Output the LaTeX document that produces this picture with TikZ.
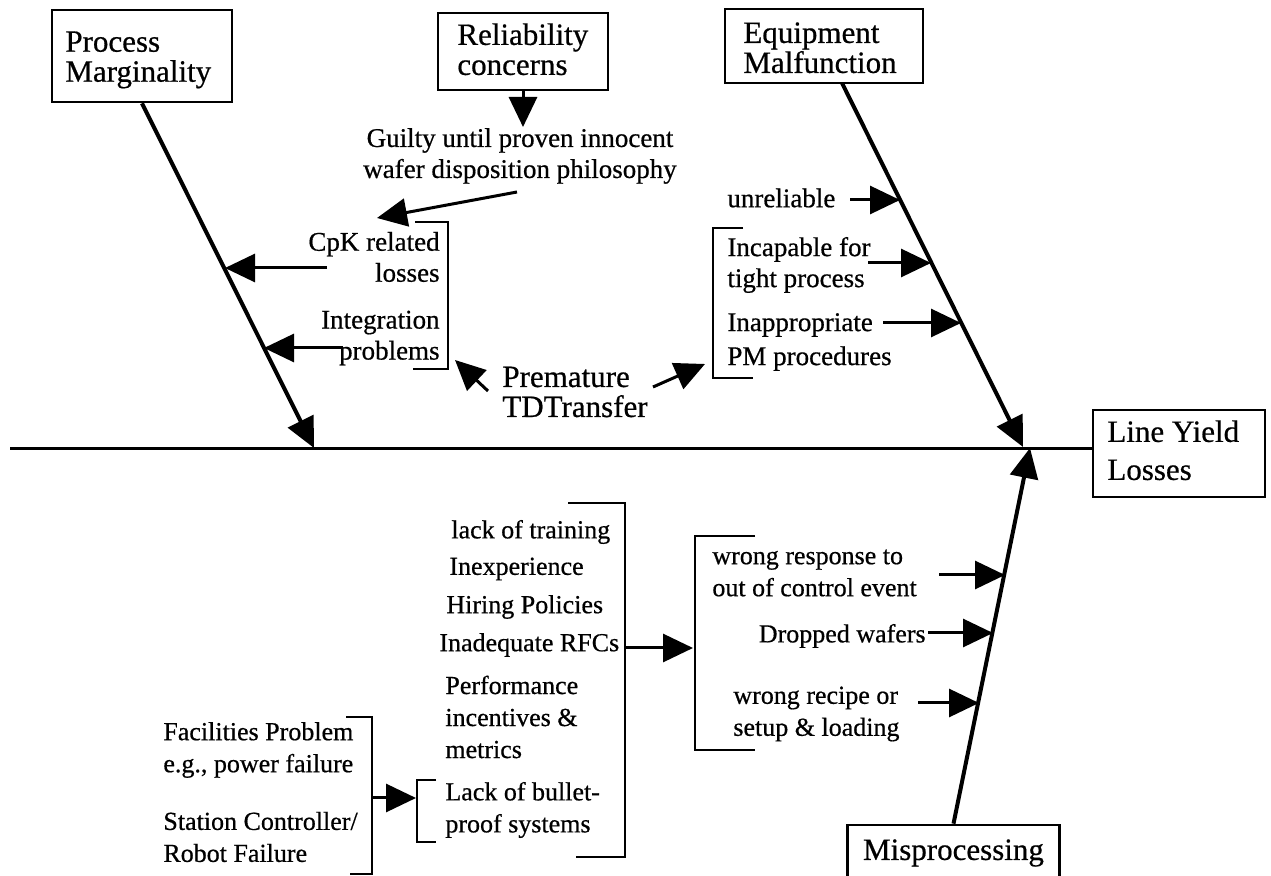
\documentclass[tikz,border=0pt]{standalone}
\usepackage{fontspec}
\setmainfont{Liberation Serif}[FakeBold=0.6,AutoFakeBold=0.6]
\usetikzlibrary{arrows.meta,calc}
\newcommand\boxfont{\fontsize{15.5}{15}\selectfont}
\newcommand\upfont{\fontsize{13.5}{15.5}\selectfont}
\newcommand\lowfont{\fontsize{13}{16}\selectfont}
\begin{document}
\begin{tikzpicture}[x=0.5pt,y=-0.5pt,
  causebox/.style={draw, line width=1.3pt},
  boxtext/.style={font=\boxfont, align=left, inner sep=0pt, anchor=north west},
  upper/.style={font=\upfont, inner sep=0pt},
  lower/.style={font=\lowfont, inner sep=0pt},
  bone/.style={line width=2pt, -{Triangle[length=15pt,width=14pt]}},
  twig/.style={line width=1.5pt, -{Triangle[length=15pt,width=14pt]}},
  bracket/.style={line width=1.4pt},
  spine/.style={line width=1.5pt}]
\useasboundingbox (0,0) rectangle (1271,876);
\clip (0,0) rectangle (1271,876);

% category boxes and their captions
\node[causebox, minimum width=90pt, minimum height=46pt] (pm) at (142,56) {};
\node[boxtext] (pmtext) at (65,31) {Process\\Marginality};
\node[causebox, minimum width=85pt, minimum height=38.5pt] (rc) at (523,51.5) {};
\node[boxtext] (rctext) at (457,23) {Reliability\\concerns};
\node[causebox, minimum width=99pt, minimum height=37pt] (em) at (824,46) {};
\node[boxtext] (emtext) at (743,22) {Equipment\\Malfunction};
\node[causebox, minimum width=86pt, minimum height=43.5pt] (lyl) at (1179,453.5) {};
\node[boxtext, font=\fontsize{15.5}{19}\selectfont] (lyltext) at (1107,420) {Line Yield\\Losses};
\node[causebox, font=\boxfont, minimum width=106pt, minimum height=28pt] (mp) at (953.5,853) {Misprocessing};

% spine
\coordinate (spinestart) at (10,449);
\draw[spine] (spinestart) -- (spinestart -| lyl.west);

% main bones
\coordinate (pmtip) at (314,448);
\coordinate (emroot) at (842,83);
\coordinate (emtip) at (1023,447);
\coordinate (mptip) at (1030,448);
\draw[bone] (pm.south) -- (pmtip);
\draw[bone] (emroot) -- (emtip);
\draw[bone] (mp.north) -- (mptip);

% upper left causes
\node[upper, align=center] (guilty) at (520,156) {Guilty until proven innocent\\wafer disposition philosophy};
\node[upper, align=right, anchor=east] (cpk) at (440,257) {CpK related\\losses};
\node[upper, align=right, anchor=east] (integ) at (440,338) {Integration\\problems};
\node[font=\boxfont, inner sep=0pt, align=left, anchor=west] (prem) at (502,392) {Premature\\TDTransfer};

\coordinate (relend) at (523,127);
\draw[twig] (rc.south) -- (relend);
\coordinate (guiltytail) at (517,192);
\coordinate (guiltytip) at (377,218);
\draw[twig] (guiltytail) -- (guiltytip);

\draw[bracket] (415,222) -- (448,222) -- (448,369) -- (413,369);
\coordinate (cpktail) at (327,268);
\coordinate (pm1) at (225,268);
\draw[twig] (cpktail) -- (pm1);
\coordinate (integtail) at (343,348);
\coordinate (pm2) at (264,348);
\draw[twig] (integtail) -- (pm2);

\coordinate (premltail) at (488,391);
\coordinate (premltip) at (455,360);
\draw[twig] (premltail) -- (premltip);
\coordinate (premrtail) at (653,387);
\coordinate (premrtip) at (705,364);
\draw[twig] (premrtail) -- (premrtip);

% upper right causes
\node[upper, align=left, anchor=west] (unrel) at (727,198) {unreliable};
\node[upper, align=left, anchor=west] (incap) at (727,265) {Incapable for\\tight process};
\node[upper, align=left, anchor=west] (inappr) at (727,342) {Inappropriate\\[1.5pt]PM procedures};
\draw[bracket] (743,228) -- (713,228) -- (713,378) -- (753,378);

\coordinate (unreltail) at (850,200);
\coordinate (em1) at (900,200);
\draw[twig] (unreltail) -- (em1);
\coordinate (incaptail) at (868,263);
\coordinate (em2) at (931,263);
\draw[twig] (incaptail) -- (em2);
\coordinate (inapprtail) at (883,323);
\coordinate (em3) at (961,323);
\draw[twig] (inapprtail) -- (em3);

% lower causes: people
\node[lower, anchor=west] (training) at (451,532) {lack of training};
\node[lower, anchor=west] (inexp) at (449,569) {Inexperience};
\node[lower, anchor=west] (hiring) at (446,607) {Hiring Policies};
\node[lower, anchor=west] (inadeq) at (439,645) {Inadequate RFCs};
\node[lower, align=left, anchor=west] (perf) at (445,717) {Performance\\incentives \&\\metrics};
\node[lower, align=left, anchor=west] (bullet) at (445,810) {Lack of bullet-\\proof systems};
\draw[bracket] (568,503) -- (625,503) -- (625,857) -- (576,857);
\draw[bracket] (436,780) -- (417,780) -- (417,842) -- (436,842);

% lower causes: facilities
\node[lower, align=left, anchor=west] (facil) at (163,750) {Facilities Problem\\e.g., power failure};
\node[lower, align=left, anchor=west] (station) at (163,837) {Station Controller/\\Robot Failure};
\draw[bracket] (346,717) -- (372,717) -- (372,874) -- (350,874);
\coordinate (faciltail) at (372,798);
\coordinate (faciltip) at (416,798);
\draw[twig] (faciltail) -- (faciltip);

% lower causes: misprocessing
\node[lower, align=left, anchor=west] (wresp) at (712,573) {wrong response to\\out of control event};
\node[lower, anchor=east] (dropped) at (926,636) {Dropped wafers};
\node[lower, align=left, anchor=west] (recipe) at (733,714) {wrong recipe or\\setup \& loading};
\draw[bracket] (755,536) -- (695,536) -- (695,750) -- (755,750);
\coordinate (humantail) at (625,648);
\coordinate (humantip) at (693,648);
\draw[twig] (humantail) -- (humantip);

\coordinate (wresptail) at (939,575);
\coordinate (mp1) at (1005,575);
\draw[twig] (wresptail) -- (mp1);
\coordinate (droppedtail) at (928,633);
\coordinate (mp2) at (993,633);
\draw[twig] (droppedtail) -- (mp2);
\coordinate (recipetail) at (918,703);
\coordinate (mp3) at (979,703);
\draw[twig] (recipetail) -- (mp3);
\end{tikzpicture}
\end{document}
